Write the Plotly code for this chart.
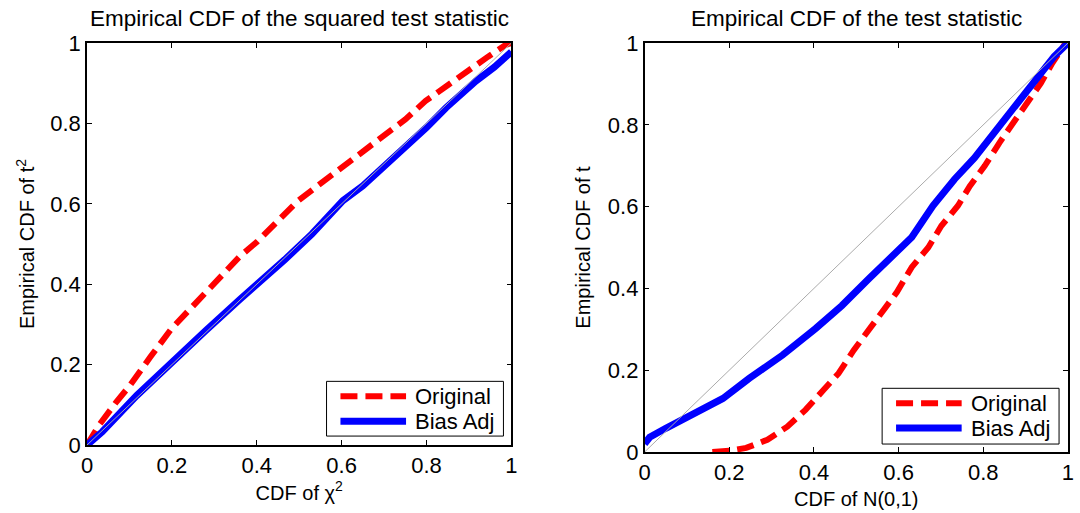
import plotly.graph_objects as go

# ---- data ----
left_orig_x = [0, 0.028, 0.069, 0.101, 0.15, 0.198, 0.24, 0.279, 0.32, 0.36, 0.40, 0.45, 0.498, 0.55, 0.60, 0.652, 0.70, 0.75, 0.798, 0.85, 0.899, 0.945, 0.986, 1.0]
left_orig_y = [0, 0.049, 0.107, 0.148, 0.22, 0.288, 0.335, 0.379, 0.425, 0.469, 0.505, 0.557, 0.608, 0.65, 0.69, 0.732, 0.77, 0.81, 0.856, 0.895, 0.936, 0.966, 0.995, 1.0]
left_adj_x = [0, 0.036, 0.117, 0.198, 0.28, 0.36, 0.40, 0.466, 0.53, 0.603, 0.65, 0.70, 0.75, 0.80, 0.846, 0.916, 0.96, 1.0]
left_adj_y = [0, 0.033, 0.123, 0.206, 0.285, 0.362, 0.398, 0.461, 0.525, 0.608, 0.645, 0.693, 0.74, 0.79, 0.839, 0.905, 0.94, 0.978]

right_orig_x = [0.16, 0.2, 0.24, 0.29, 0.337, 0.38, 0.423, 0.458, 0.494, 0.529, 0.56, 0.596, 0.631, 0.67, 0.701, 0.74, 0.768, 0.803, 0.838, 0.867, 0.897, 0.936, 0.963, 0.991, 1.0]
right_orig_y = [0.0, 0.003, 0.01, 0.03, 0.062, 0.103, 0.152, 0.192, 0.249, 0.298, 0.346, 0.391, 0.452, 0.5, 0.553, 0.602, 0.65, 0.699, 0.756, 0.8, 0.849, 0.902, 0.951, 0.995, 1.0]
right_adj_x = [0, 0.012, 0.05, 0.085, 0.122, 0.185, 0.247, 0.326, 0.404, 0.466, 0.529, 0.592, 0.631, 0.681, 0.732, 0.779, 0.826, 0.873, 0.92, 0.967, 1.0]
right_adj_y = [0.02, 0.036, 0.058, 0.077, 0.099, 0.131, 0.18, 0.237, 0.302, 0.358, 0.423, 0.488, 0.525, 0.602, 0.667, 0.719, 0.78, 0.841, 0.902, 0.967, 1.0]

diag = [0, 1]
tick_vals = [0, 0.2, 0.4, 0.6, 0.8, 1]
tick_text = ["0", "0.2", "0.4", "0.6", "0.8", "1"]
series_names = ["Original", "Bias Adj"]
panel_titles = ["Empirical CDF of the squared test statistic", "Empirical CDF of the test statistic"]

FONT = "Liberation Sans, Arial, Helvetica, sans-serif"
RED = "#ff0000"
BLUE = "#0000ff"
GRAY = "#ababab"
RED_LINE = dict(color=RED, width=6, dash="17px,8px")
BLUE_LINE = dict(color=BLUE, width=7)

fig = go.Figure()

# left panel
fig.add_trace(go.Scatter(x=left_orig_x, y=left_orig_y, mode="lines", name=series_names[0],
                         line=RED_LINE, xaxis="x", yaxis="y", showlegend=False))
fig.add_trace(go.Scatter(x=left_adj_x, y=left_adj_y, mode="lines", name=series_names[1],
                         line=BLUE_LINE, xaxis="x", yaxis="y", showlegend=False))
fig.add_trace(go.Scatter(x=diag, y=diag, mode="lines", showlegend=False, hoverinfo="skip",
                         line=dict(color=GRAY, width=1), xaxis="x", yaxis="y"))

# right panel
fig.add_trace(go.Scatter(x=right_orig_x, y=right_orig_y, mode="lines", name=series_names[0],
                         line=RED_LINE, xaxis="x2", yaxis="y2", showlegend=False))
fig.add_trace(go.Scatter(x=right_adj_x, y=right_adj_y, mode="lines", name=series_names[1],
                         line=BLUE_LINE, xaxis="x2", yaxis="y2", showlegend=False))
fig.add_trace(go.Scatter(x=diag, y=diag, mode="lines", showlegend=False, hoverinfo="skip",
                         line=dict(color=GRAY, width=1), xaxis="x2", yaxis="y2"))

# geometry (pixels)
W, H = 1080, 513
ML, MR, MT, MB = 87, 6, 43, 59
PW = W - ML - MR
PH = H - MT - MB


def px_x(p):
    return (p - ML) / PW


def px_y(p):
    return (H - MB - p) / PH


axis_common = dict(range=[0, 1], showgrid=False, zeroline=False, showline=True,
                   linecolor="black", linewidth=1.5, mirror="ticks", ticks="inside",
                   ticklen=5, tickwidth=1, tickcolor="black",
                   tickvals=tick_vals, ticktext=tick_text,
                   tickfont=dict(family=FONT, size=22, color="black"))

label_font = dict(family=FONT, size=20, color="black")

# manual legends (box + sample line + text), one per panel
shapes = []
annotations = []
legend_specs = [
    # box x0, x1, y0, y1, sample x0, x1, item y positions, text x
    (328, 506, 383, 438, 342, 408, (398, 423), 415),
    (887, 1065, 390, 446, 901, 967, (405, 430), 974),
]
for bx0, bx1, by0, by1, sx0, sx1, ys, tx in legend_specs:
    shapes.append(dict(type="rect", xref="paper", yref="paper",
                       x0=px_x(bx0), x1=px_x(bx1), y0=px_y(by1), y1=px_y(by0),
                       fillcolor="white", line=dict(color="black", width=1), layer="above"))
    for yy, style, name in zip(ys, [RED_LINE, BLUE_LINE], series_names):
        shapes.append(dict(type="line", xref="paper", yref="paper",
                           x0=px_x(sx0), x1=px_x(sx1), y0=px_y(yy), y1=px_y(yy),
                           line=style, layer="above"))
        annotations.append(dict(text=name, xref="paper", yref="paper",
                                x=px_x(tx), y=px_y(yy), xanchor="left", yanchor="middle",
                                showarrow=False, font=dict(family=FONT, size=22, color="black")))

# panel titles
for title, (a, b) in zip(panel_titles, [(87, 514), (648, 1074)]):
    annotations.append(dict(text=title, xref="paper", yref="paper",
                            x=(px_x(a) + px_x(b)) / 2, y=px_y(18), xanchor="center", yanchor="middle",
                            showarrow=False, font=dict(family=FONT, size=22.5, color="black")))

fig.update_layout(
    width=W, height=H,
    margin=dict(l=ML, r=MR, t=MT, b=MB),
    paper_bgcolor="white", plot_bgcolor="white",
    font=dict(family=FONT, color="black"),
    showlegend=False,
    xaxis=dict(domain=[0, px_x(514)], anchor="y",
               title=dict(text="CDF of χ<sup>2</sup>", font=label_font, standoff=8),
               **axis_common),
    yaxis=dict(domain=[px_y(447), 1], anchor="x",
               title=dict(text="Empirical CDF of t<sup>2</sup>", font=label_font, standoff=10),
               **axis_common),
    xaxis2=dict(domain=[px_x(648), 1], anchor="y2",
                title=dict(text="CDF of N(0,1)", font=label_font, standoff=8),
                **axis_common),
    yaxis2=dict(domain=[0, 1], anchor="x2",
                title=dict(text="Empirical CDF of t", font=label_font, standoff=12),
                **axis_common),
    shapes=shapes,
    annotations=annotations,
)

fig.write_html("out.html")
